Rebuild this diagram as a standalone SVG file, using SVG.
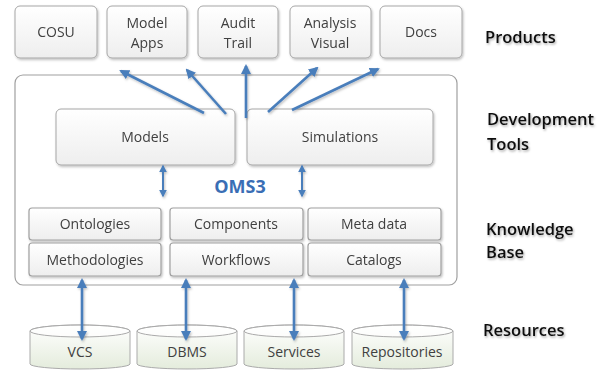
<svg xmlns="http://www.w3.org/2000/svg" width="597" height="370" viewBox="0 0 597 370">
  <defs>
    <linearGradient id="boxFill" x1="0" y1="0" x2="0" y2="1">
      <stop offset="0" stop-color="#ffffff"/>
      <stop offset="1" stop-color="#eeeeee"/>
    </linearGradient>
    <linearGradient id="cylFill" x1="0" y1="0" x2="0" y2="1">
      <stop offset="0" stop-color="#ffffff"/>
      <stop offset="1" stop-color="#e4ecdc"/>
    </linearGradient>
    <filter id="shadow" x="-20%" y="-20%" width="140%" height="150%">
      <feDropShadow dx="1" dy="1.5" stdDeviation="1.2" flood-color="#000" flood-opacity="0.25"/>
    </filter>
    <filter id="textShadow" x="-10%" y="-30%" width="120%" height="160%">
      <feDropShadow dx="1" dy="1.5" stdDeviation="1" flood-color="#000" flood-opacity="0.35"/>
    </filter>
    <marker id="head" viewBox="0 0 10 10" refX="8" refY="5" markerWidth="10" markerHeight="10" markerUnits="userSpaceOnUse" orient="auto-start-reverse">
      <path d="M0,0 L10,5 L0,10 Z" fill="#4a7ebb"/>
    </marker>
    <marker id="headSmall" viewBox="0 0 10 10" refX="8" refY="5" markerWidth="8" markerHeight="8" markerUnits="userSpaceOnUse" orient="auto-start-reverse">
      <path d="M0,0 L10,5 L0,10 Z" fill="#4a7ebb"/>
    </marker>
  </defs>
  <style>
    .box { fill: url(#boxFill); stroke: #a6a6a6; stroke-width: 1; }
    .kb { fill: url(#boxFill); stroke: #a0a0a0; stroke-width: 1.2; }
    .cyl { fill: url(#cylFill); stroke: #aaaaaa; stroke-width: 1; }
    .cyltop { fill: #ffffff; stroke: #aaaaaa; stroke-width: 1; }
    .lbl { font-family: "Open Sans", "Noto Sans", sans-serif; font-size: 14px; fill: #404040; text-anchor: middle; }
    .side { font-family: "Open Sans", "Noto Sans", sans-serif; font-size: 16.5px; font-weight: 600; fill: #111111; }
    .oms { font-family: "Open Sans", "Noto Sans", sans-serif; font-size: 18px; font-weight: 700; fill: #3a6eb5; text-anchor: middle; }
    .arrow { stroke: #4a7ebb; stroke-width: 2.6; fill: none; }
    .arrow2 { stroke: #4a7ebb; stroke-width: 2; fill: none; }
  </style>

  <rect width="597" height="370" fill="#ffffff"/>

  <!-- OMS3 container -->
  <g id="oms3">
    <rect x="15" y="75" width="442" height="210" rx="8" fill="#ffffff" stroke="#a0a0a0" stroke-width="1.2"/>
    <text class="oms" x="240" y="193">OMS3</text>
  </g>

  <!-- products row -->
  <g id="cosu" filter="url(#shadow)">
    <rect class="box" x="15" y="6" width="82" height="52" rx="5"/>
    <text class="lbl" x="56" y="37">COSU</text>
  </g>
  <g id="model-apps" filter="url(#shadow)">
    <rect class="box" x="107" y="6" width="80" height="52" rx="5"/>
    <text class="lbl" x="147" y="28">Model</text>
    <text class="lbl" x="147" y="48">Apps</text>
  </g>
  <g id="audit-trail" filter="url(#shadow)">
    <rect class="box" x="198" y="6" width="80" height="52" rx="5"/>
    <text class="lbl" x="238" y="28">Audit</text>
    <text class="lbl" x="238" y="48">Trail</text>
  </g>
  <g id="analysis-visual" filter="url(#shadow)">
    <rect class="box" x="290" y="6" width="81" height="52" rx="5"/>
    <text class="lbl" x="330" y="28">Analysis</text>
    <text class="lbl" x="330" y="48">Visual</text>
  </g>
  <g id="docs" filter="url(#shadow)">
    <rect class="box" x="380" y="6" width="82" height="52" rx="5"/>
    <text class="lbl" x="421" y="37">Docs</text>
  </g>

  <!-- development tools -->
  <g id="models" filter="url(#shadow)">
    <rect class="box" x="56" y="109" width="179" height="56" rx="5"/>
    <text class="lbl" x="145" y="142">Models</text>
  </g>
  <g id="simulations" filter="url(#shadow)">
    <rect class="box" x="247" y="109" width="186" height="56" rx="5"/>
    <text class="lbl" x="340" y="142">Simulations</text>
  </g>

  <!-- knowledge base -->
  <g id="ontologies" filter="url(#shadow)">
    <rect class="kb" x="29" y="208" width="132" height="32" rx="3"/>
    <text class="lbl" x="95" y="229">Ontologies</text>
  </g>
  <g id="components" filter="url(#shadow)">
    <rect class="kb" x="170" y="208" width="133" height="32" rx="3"/>
    <text class="lbl" x="236" y="229">Components</text>
  </g>
  <g id="metadata" filter="url(#shadow)">
    <rect class="kb" x="308" y="208" width="133" height="32" rx="3"/>
    <text class="lbl" x="374" y="229">Meta data</text>
  </g>
  <g id="methodologies" filter="url(#shadow)">
    <rect class="kb" x="29" y="243" width="132" height="33" rx="3"/>
    <text class="lbl" x="95" y="265">Methodologies</text>
  </g>
  <g id="workflows" filter="url(#shadow)">
    <rect class="kb" x="170" y="243" width="133" height="33" rx="3"/>
    <text class="lbl" x="236" y="265">Workflows</text>
  </g>
  <g id="catalogs" filter="url(#shadow)">
    <rect class="kb" x="308" y="243" width="133" height="33" rx="3"/>
    <text class="lbl" x="374" y="265">Catalogs</text>
  </g>

  <!-- resources -->
  <g id="vcs">
    <path class="cyl" d="M30,331 A50,6 0 0 1 130,331 V364 A50,5 0 0 1 30,364 Z"/>
    <path class="cyltop" d="M30,331 A50,6 0 0 1 130,331 A50,6 0 0 1 30,331 Z" fill-opacity="0.6"/>
    <text class="lbl" x="80" y="357">VCS</text>
  </g>
  <g id="dbms">
    <path class="cyl" d="M137,331 A50,6 0 0 1 237,331 V364 A50,5 0 0 1 137,364 Z"/>
    <path class="cyltop" d="M137,331 A50,6 0 0 1 237,331 A50,6 0 0 1 137,331 Z" fill-opacity="0.6"/>
    <text class="lbl" x="187" y="357">DBMS</text>
  </g>
  <g id="services">
    <path class="cyl" d="M244,331 A50,6 0 0 1 344,331 V364 A50,5 0 0 1 244,364 Z"/>
    <path class="cyltop" d="M244,331 A50,6 0 0 1 344,331 A50,6 0 0 1 244,331 Z" fill-opacity="0.6"/>
    <text class="lbl" x="294" y="357">Services</text>
  </g>
  <g id="repositories">
    <path class="cyl" d="M352,331 A50.5,6 0 0 1 453,331 V364 A50.5,5 0 0 1 352,364 Z"/>
    <path class="cyltop" d="M352,331 A50.5,6 0 0 1 453,331 A50.5,6 0 0 1 352,331 Z" fill-opacity="0.6"/>
    <text class="lbl" x="402" y="357">Repositories</text>
  </g>

  <!-- layer captions -->
  <g id="captions" filter="url(#textShadow)">
    <text class="side" x="485" y="43">Products</text>
    <text class="side" x="487" y="125">Development</text>
    <text class="side" x="487" y="150">Tools</text>
    <text class="side" x="486" y="235">Knowledge</text>
    <text class="side" x="486" y="258">Base</text>
    <text class="side" x="483" y="336">Resources</text>
  </g>

  <!-- connectors -->
  <g id="connectors" filter="url(#shadow)">
    <line class="arrow" x1="204" y1="113" x2="121" y2="71" marker-end="url(#head)"/>
    <line class="arrow" x1="226" y1="114" x2="187" y2="70" marker-end="url(#head)"/>
    <line class="arrow" x1="246" y1="118" x2="246" y2="66" marker-end="url(#head)"/>
    <line class="arrow" x1="268" y1="112" x2="317" y2="68" marker-end="url(#head)"/>
    <line class="arrow" x1="292" y1="110" x2="378" y2="69" marker-end="url(#head)"/>

    <line class="arrow2" x1="163" y1="166" x2="163" y2="196" marker-start="url(#headSmall)" marker-end="url(#headSmall)"/>
    <line class="arrow2" x1="302" y1="166" x2="302" y2="196" marker-start="url(#headSmall)" marker-end="url(#headSmall)"/>

    <line class="arrow" x1="82" y1="280" x2="82" y2="339" marker-start="url(#head)" marker-end="url(#head)"/>
    <line class="arrow" x1="186" y1="280" x2="186" y2="339" marker-start="url(#head)" marker-end="url(#head)"/>
    <line class="arrow" x1="294" y1="280" x2="294" y2="339" marker-start="url(#head)" marker-end="url(#head)"/>
    <line class="arrow" x1="404" y1="280" x2="404" y2="339" marker-start="url(#head)" marker-end="url(#head)"/>
  </g>
</svg>
